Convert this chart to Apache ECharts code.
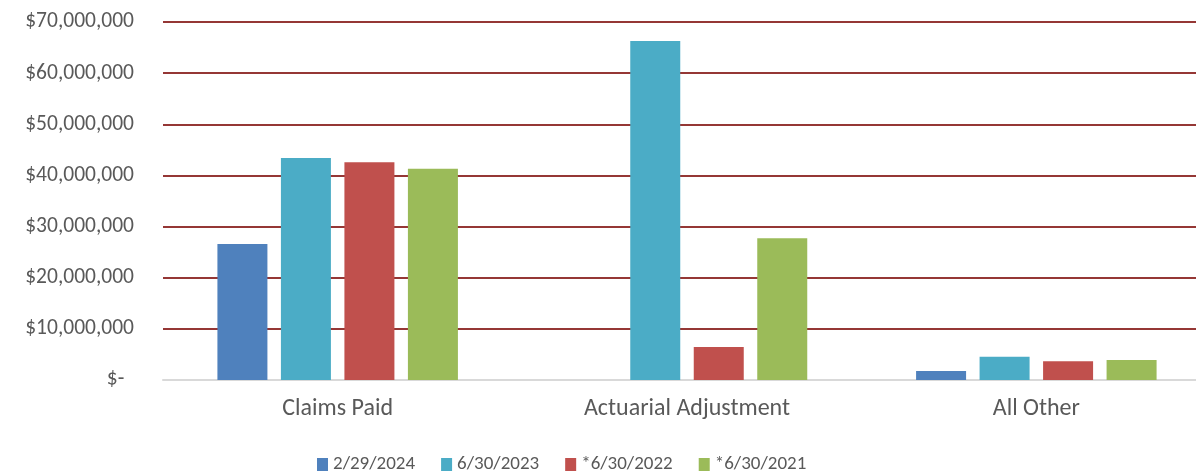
<!DOCTYPE html>
<html>
<head>
<meta charset="utf-8">
<script src="https://cdn.jsdelivr.net/npm/echarts@6/dist/echarts.min.js"></script>
<style>
  html, body { margin: 0; padding: 0; background: #fff; }
  #main { width: 1196px; height: 473px; }
</style>
</head>
<body>
<div id="main"></div>
<script>
const categories = ['Claims Paid', 'Actuarial Adjustment', 'All Other']
const seriesNames = ['2/29/2024', '6/30/2023', '*6/30/2022', '*6/30/2021']
const feb2024 = [26600000, 0, 1750000]
const jun2023 = [43400000, 66300000, 4550000]
const jun2022 = [42600000, 6450000, 3650000]
const jun2021 = [41300000, 27700000, 3900000]
const colors = ['#4F81BD', '#4BACC6', '#C0504D', '#9BBB59']

const font = 'Carlito, Calibri, "Liberation Sans", sans-serif'

// excel accounting style: zero shows as "$-"
const fmtMoney = v => {
  if (v === 0) return '$-  '
  return '$' + v.toLocaleString('en-US')
}

const myChart = echarts.init(document.getElementById('main'))

const dataList = [feb2024, jun2023, jun2022, jun2021]

const option = {
  animation: false,
  color: colors,
  textStyle: { fontFamily: font },
  // plot runs a bit past the right edge (cropped in the original)
  grid: { left: 163, width: 1048, top: 22, bottom: 93, outerBoundsMode: 'none' },
  legend: {
    left: 317,
    top: 455,
    padding: 0,
    itemWidth: 11,
    itemHeight: 13,
    itemGap: 26,
    icon: 'rect',
    textStyle: { fontSize: 19, color: '#595959', fontFamily: font },
    data: seriesNames
  },
  xAxis: {
    type: 'category',
    data: categories,
    axisTick: { show: false },
    axisLine: { lineStyle: { color: '#d9d9d9', width: 2 } },
    axisLabel: { fontSize: 24, color: '#595959', margin: 17 }
  },
  yAxis: {
    type: 'value',
    min: 0,
    max: 70000000,
    interval: 10000000,
    axisLabel: { fontSize: 21.5, color: '#595959', margin: 29, formatter: fmtMoney },
    splitLine: { lineStyle: { color: '#953735', width: 2 } }
  },
  series: seriesNames.map((name, i) => ({
    name: name,
    type: 'bar',
    data: dataList[i],
    barWidth: 50,
    barGap: '27%'
  }))
}

myChart.setOption(option)
</script>
</body>
</html>
